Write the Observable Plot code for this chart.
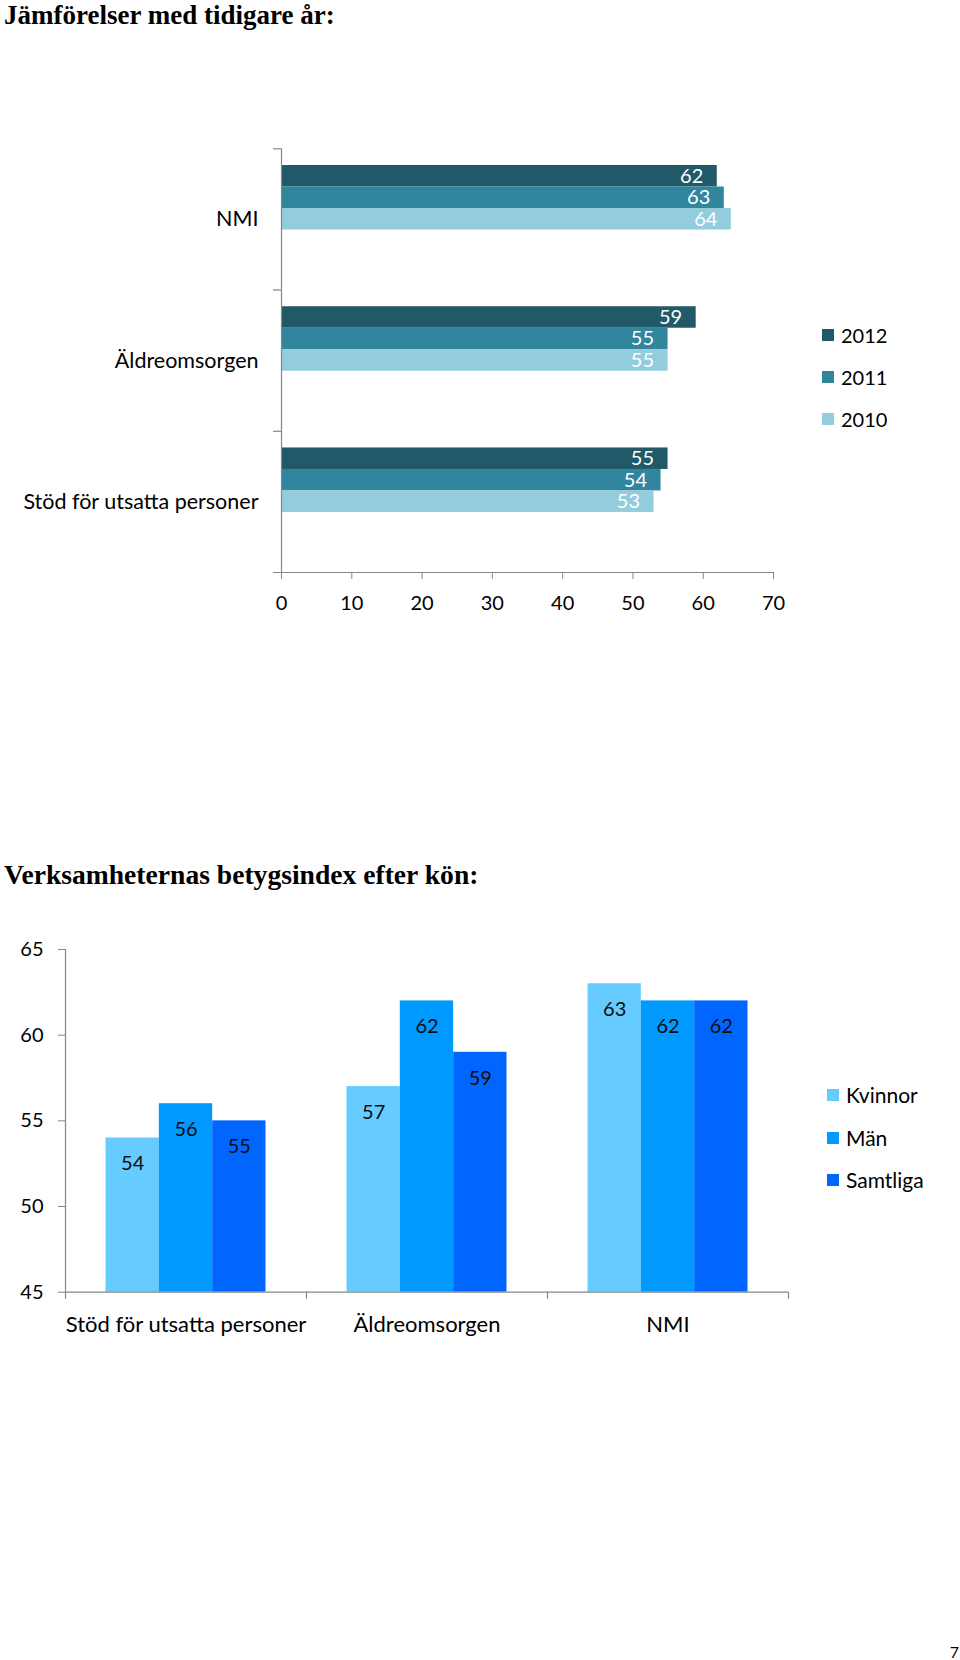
<!DOCTYPE html>
<html><head><meta charset="utf-8">
<script src="https://cdn.jsdelivr.net/npm/d3@7"></script>
<script src="https://cdn.jsdelivr.net/npm/@observablehq/plot@0.6"></script>
<style>
body{margin:0;background:#fff;}
#page{position:relative;width:960px;height:1660px;overflow:hidden;font-family:Lato,sans-serif;color:#000;}
.title{position:absolute;left:4px;font-family:"Liberation Serif",serif;font-weight:bold;font-size:27px;line-height:30px;white-space:nowrap;}
.chart{position:absolute;left:0;}
.lrow{position:absolute;height:24px;line-height:24px;display:flex;align-items:center;white-space:nowrap;}
.sw{width:12px;height:12px;margin-right:7px;flex:none;}
#pnum{position:absolute;right:1px;top:1644px;font-size:16px;line-height:16px;}
</style></head>
<body><div id="page">
<div class="title" style="top:0px">Jämförelser med tidigare år:</div>
<div class="title" style="top:860px;font-size:27.6px">Verksamheternas betygsindex efter kön:</div>
<div id="c1" class="chart" style="top:0px"></div>
<div id="c2" class="chart" style="top:900px"></div>
<div id="leg1"></div>
<div id="leg2"></div>
<div id="pnum">7</div>
</div>
<script>
// ---- Data: chart 1 (comparison with earlier years)
const cats1 = ["NMI", "Äldreomsorgen", "Stöd för utsatta personer"];
const years = ["2012", "2011", "2010"];
const v2012 = [62, 59, 55];
const v2011 = [63, 55, 54];
const v2010 = [64, 55, 53];
const yearColors = ["#215968", "#31859C", "#93CDDD"];
const xTicks1 = [0, 10, 20, 30, 40, 50, 60, 70];

// ---- Data: chart 2 (index by gender)
const cats2 = ["Stöd för utsatta personer", "Äldreomsorgen", "NMI"];
const groups = ["Kvinnor", "Män", "Samtliga"];
const kvinnor = [54, 57, 63];
const man = [56, 62, 62];
const samtliga = [55, 59, 62];
const groupColors = ["#66CCFF", "#0099FF", "#0066FF"];
const yTicks2 = [45, 50, 55, 60, 65];

const axisGray = "#868686";

// ---------- Chart 1 ----------
const series1 = [v2012, v2011, v2010];
const rows1 = cats1.flatMap((c, i) => years.map((yr, j) => ({cat: c, year: yr, value: series1[j][i]})));

const W = 960, H1 = 640, mT1 = 148.3, mB1 = 68, mL1 = 281, mR1 = 187;
const facetH = (H1 - mT1 - mB1) / cats1.length;
const step1 = 21.5;
const pad1 = (facetH / step1 - years.length) / 2;
const off1 = 16.7;
const align1 = off1 / (facetH - years.length * step1);
const px1 = (W - mL1 - mR1) / (xTicks1[xTicks1.length - 1] - xTicks1[0]);
const stub1 = 8 / px1;

const plot1 = Plot.plot({
  width: W, height: H1,
  marginTop: mT1, marginBottom: mB1, marginLeft: mL1, marginRight: mR1,
  style: {fontFamily: "Lato, sans-serif", fontSize: "20px", color: "#000", background: "transparent"},
  fy: {domain: cats1, padding: 0, round: false},
  y: {domain: years, paddingInner: 0, paddingOuter: pad1, align: align1, round: false, axis: null},
  x: {domain: [xTicks1[0], xTicks1[xTicks1.length - 1]]},
  color: {domain: years, range: yearColors},
  marks: [
    Plot.barX(rows1, {fy: "cat", y: "year", x: "value", fill: "year"}),
    Plot.text(rows1, {fy: "cat", y: "year", x: "value", text: d => String(d.value), textAnchor: "end", dx: -14, fill: "#fff", fontSize: 20}),
    Plot.ruleX([0], {stroke: axisGray, strokeWidth: 1.2}),
    Plot.ruleY(cats1, {fy: d => d, y: () => years[0], x1: -stub1, x2: 0, dy: -(off1 + step1 / 2), stroke: axisGray, strokeWidth: 1.2}),
    Plot.ruleY([cats1[cats1.length - 1]], {fy: d => d, y: () => years[years.length - 1], x1: -stub1, x2: xTicks1[xTicks1.length - 1], dy: facetH - off1 - (years.length - 0.5) * step1, stroke: axisGray, strokeWidth: 1.2}),
    Plot.axisX(xTicks1, {tickSize: 7, tickPadding: 16, stroke: axisGray, fill: "#000", fontSize: 20, label: null}),
    Plot.axisFy({anchor: "left", tickSize: 0, tickPadding: 23, fill: "#000", fontSize: 21.5, label: null})
  ]
});
document.getElementById("c1").appendChild(plot1);

// ---------- Chart 2 ----------
const series2 = [kvinnor, man, samtliga];
const rows2 = cats2.flatMap((c, i) => groups.map((g, j) => ({cat: c, group: g, value: series2[j][i]})));

const H2 = 440, mT2 = 49, mB2 = 48.3, mL2 = 65, mR2 = 172;
const facetW = (W - mL2 - mR2) / cats2.length;
const step2 = 53.33;
const pad2 = (facetW / step2 - groups.length) / 2;
const off2 = (facetW - groups.length * step2) / 2;
const yMin = yTicks2[0], yMax = yTicks2[yTicks2.length - 1];
const py2 = (H2 - mT2 - mB2) / (yMax - yMin);
const stub2 = 7 / py2;

const plot2 = Plot.plot({
  width: W, height: H2,
  marginTop: mT2, marginBottom: mB2, marginLeft: mL2, marginRight: mR2,
  style: {fontFamily: "Lato, sans-serif", fontSize: "20px", color: "#000", background: "transparent"},
  fx: {domain: cats2, padding: 0, round: false},
  x: {domain: groups, paddingInner: 0, paddingOuter: pad2, align: 0.5, round: false, axis: null},
  y: {domain: [yMin, yMax]},
  color: {domain: groups, range: groupColors},
  marks: [
    Plot.barY(rows2, {fx: "cat", x: "group", y1: yMin, y2: "value", fill: "group"}),
    Plot.text(rows2, {fx: "cat", x: "group", y: "value", text: d => String(d.value), dy: 26, fill: "#0d0d0d", fontSize: 20}),
    Plot.ruleY([yMin], {stroke: axisGray, strokeWidth: 1.2}),
    Plot.ruleX([cats2[0]], {fx: d => d, x: () => groups[0], dx: -(off2 + step2 / 2), y1: yMin, y2: yMax, stroke: axisGray, strokeWidth: 1.2}),
    Plot.ruleX(cats2, {fx: d => d, x: () => groups[0], dx: -(off2 + step2 / 2), y1: yMin, y2: yMin - stub2, stroke: axisGray, strokeWidth: 1.2}),
    Plot.ruleX([cats2[cats2.length - 1]], {fx: d => d, x: () => groups[groups.length - 1], dx: off2 + step2 / 2, y1: yMin, y2: yMin - stub2, stroke: axisGray, strokeWidth: 1.2}),
    Plot.axisY(yTicks2, {tickSize: 7, tickPadding: 15, stroke: axisGray, fill: "#000", fontSize: 20, label: null}),
    Plot.axisFx({anchor: "bottom", tickSize: 0, tickPadding: 24, fill: "#000", fontSize: 22, label: null})
  ]
});
document.getElementById("c2").appendChild(plot2);

// ---------- Legends ----------
function legend(id, labels, colors, left, centers, fontSize) {
  const el = document.getElementById(id);
  labels.forEach((lab, i) => {
    const r = document.createElement("div");
    r.className = "lrow";
    r.style.left = left + "px";
    r.style.top = (centers[i] - 12) + "px";
    r.style.fontSize = fontSize + "px";
    const sw = document.createElement("div");
    sw.className = "sw";
    sw.style.background = colors[i];
    r.appendChild(sw);
    r.appendChild(document.createTextNode(lab));
    el.appendChild(r);
  });
}
legend("leg1", years, yearColors, 822, [335, 377, 419], 20);
legend("leg2", groups, groupColors, 827, [1095, 1137.5, 1180], 21);
</script>
</body></html>
